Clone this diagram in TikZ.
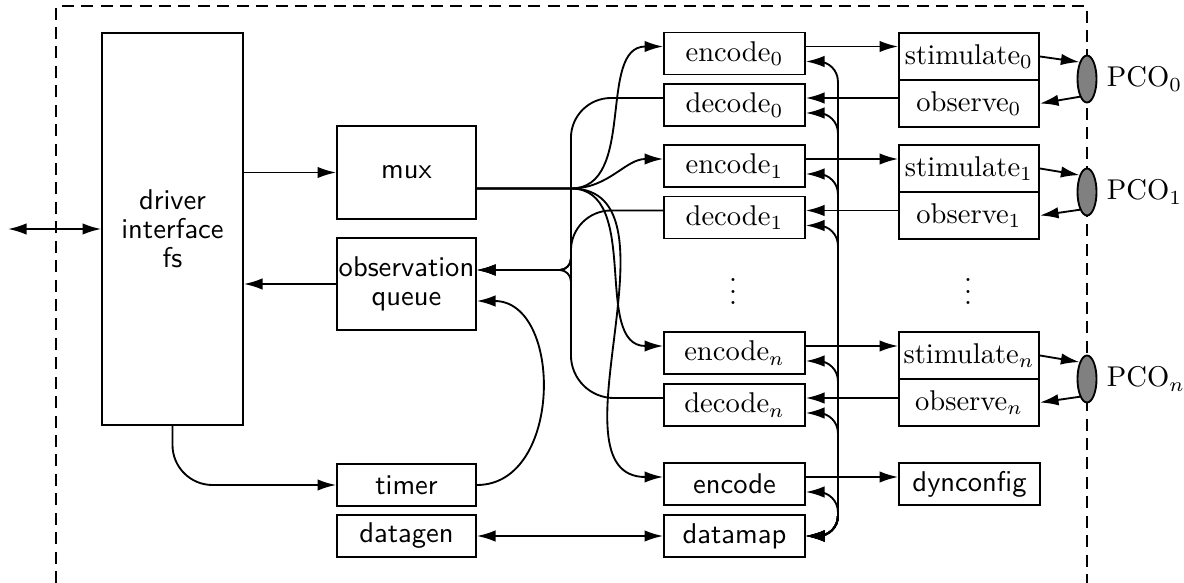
\documentclass[tikz,border=0pt]{standalone}
\usetikzlibrary{arrows.meta,calc,shapes.geometric}
\begin{document}
\begin{tikzpicture}[x=0.35pt,y=-0.35pt, line width=0.65pt,
  >={Latex[length=6.5pt,width=4pt]},
  bx/.style args={#1/#2}{draw, inner sep=0pt, minimum width=#1*0.35pt, minimum height=#2*0.35pt},
  sf/.style={font=\sffamily\fontsize{10}{10.2}\selectfont},
  pco/.style={ellipse, draw, fill=gray, inner sep=0pt, minimum width=19*0.35pt, minimum height=47*0.35pt},
  lbl/.style={anchor=west, inner sep=0pt},
  frame/.style={dash pattern=on 4.2pt off 2.6pt}]
\useasboundingbox (0,0) rectangle (1184,583);
% frame
\draw[frame] (56,583) -- (56,6) -- (1087,6) -- (1087,583);
% nodes
\node[bx=141/392, sf, align=center] (drv) at (172.5,229) {driver\\interface\\fs};
\node[bx=139/93, sf] (mux) at (406.5,172.5) {mux};
\node[bx=139/92, sf, align=center] (obsq) at (406.5,284) {observation\\queue};
\node[bx=139/42, sf] (timer) at (406.5,485) {timer};
\node[bx=139/42, sf] (datagen) at (406.5,536) {datagen};
\node[bx=141/42] (enc0) at (734.5,53.5) {encode$_0$};
\node[bx=141/42] (dec0) at (734.5,105) {decode$_0$};
\node[bx=141/42] (enc1) at (734.5,166) {encode$_1$};
\node[bx=141/42] (dec1) at (734.5,217.5) {decode$_1$};
\node[bx=141/42] (encn) at (734.5,353) {encode$_n$};
\node[bx=141/42] (decn) at (734.5,405) {decode$_n$};
\node[bx=141/42, sf] (enc) at (734.5,484) {encode};
\node[bx=141/42, sf] (dmap) at (734.5,536) {datamap};
\node (dots1) at (733,283) {$\vdots$};
\node[bx=140/47] (stim0) at (969,56.5) {stimulate$_0$};
\node[bx=140/47] (obs0) at (969,103.5) {observe$_0$};
\node[bx=140/47] (stim1) at (969,168.5) {stimulate$_1$};
\node[bx=140/47] (obs1) at (969,215.5) {observe$_1$};
\node[bx=140/47] (stimn) at (969,355.5) {stimulate$_n$};
\node[bx=140/47] (obsn) at (969,402.5) {observe$_n$};
\node (dots2) at (968,283) {$\vdots$};
\node[bx=141/42, sf] (dyn) at (969.5,484) {dynconfig};
\node[pco] (pco0) at (1087,79) {};
\node[pco] (pco1) at (1087,192) {};
\node[pco] (pcon) at (1087,379) {};
\node[lbl] (l0) at (1106,79) {PCO$_0$};
\node[lbl] (l1) at (1106,192) {PCO$_1$};
\node[lbl] (ln) at (1106,379) {PCO$_n$};
% left side
\coordinate (ext) at (8,229);
\draw[<->] (ext) -- (drv.west);
\draw[->] (drv.east |- mux.west) -- (mux.west);
\draw[->] (obsq.west) -- (drv.east |- obsq.west);
\draw[->, rounded corners=14pt] (drv.south) |- (timer.west);
\coordinate (qin) at ($(obsq.east)+(0,-14)$);
\coordinate (qt) at ($(obsq.east)+(0,17)$);
\draw[->] (timer.east) to[out=0,in=0,looseness=1.2] (qt);
\draw[<->] (datagen.east) -- (dmap.west);
% mux fan-out
\coordinate (mo) at ($(mux.east)+(0,16)$);
\coordinate (br) at ($(mo)+(94,0)$);
\foreach \n in {enc0,enc1,encn,enc}
  \draw[->] (mo) -- (br) to[out=0,in=180] ($(\n.west)+(0,-7)$);
% decodes to observation queue
\coordinate (qj) at ($(qin)+(94,0)$);
\foreach \n in {dec0,dec1}
  \draw[->, rounded corners=14pt] ($(\n.west)+(0,-7)$) -| ($(qj)+(0,-20)$) [rounded corners=4pt] -- (qj) -- (qin);
\draw[->, rounded corners=15pt] ($(decn.west)+(0,-7)$) -| ($(qj)+(0,20)$) [rounded corners=4pt] -- (qj) -- (qin);
% datamap spine
\foreach \n in {enc0,dec0,enc1,dec1,encn,decn,enc}
  \draw[<->, rounded corners=7pt] (dmap.east) -- ++(32,0) |- ($(\n.east)+(0,8)$);
% encode -> stimulate, observe -> decode
\foreach \a/\b in {enc0/stim0,enc1/stim1,encn/stimn,enc/dyn}{
  \coordinate (p) at ($(\a.east)+(0,-7)$);
  \draw[->] (p) -- (p -| \b.west);
}
\foreach \d/\o in {dec0/obs0,dec1/obs1,decn/obsn}{
  \coordinate (p) at ($(\d.east)+(0,-7)$);
  \draw[->] (p -| \o.west) -- (p);
}
% PCO connections
\foreach \s/\o/\p in {stim0/obs0/pco0,stim1/obs1/pco1,stimn/obsn/pcon}{
  \draw[->] (\s.east) -- (\p.114);
  \draw[->] (\p.248) -- (\o.east);
}
\end{tikzpicture}
\end{document}
